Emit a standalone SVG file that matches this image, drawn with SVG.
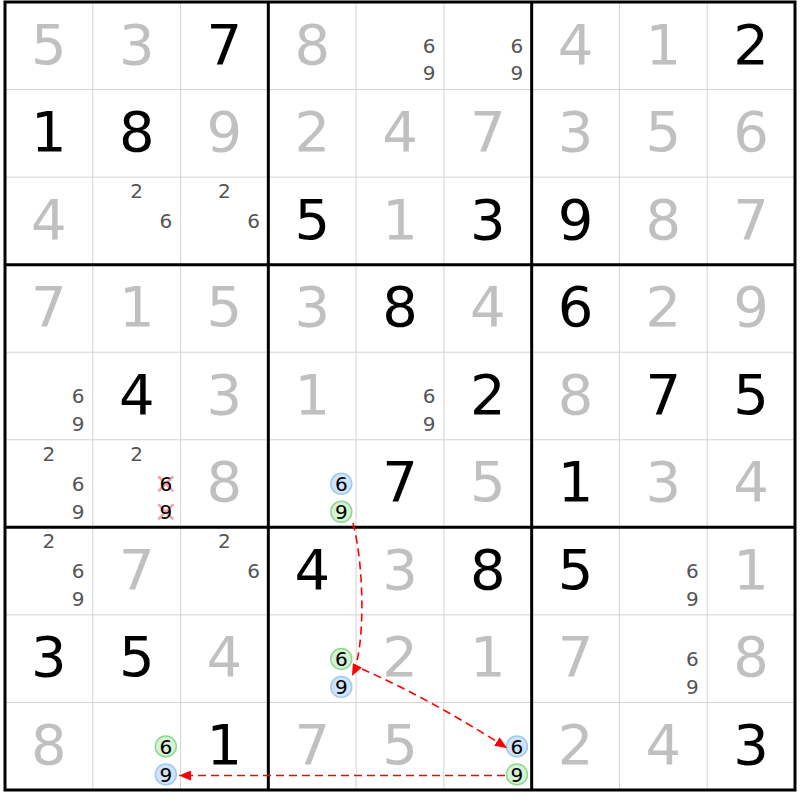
<svg xmlns="http://www.w3.org/2000/svg" width="800" height="800" viewBox="0 0 800 800">
<style>
text{font-family:"DejaVu Sans","Verdana",sans-serif;text-anchor:middle}
.g{font-size:56px;fill:#000}
.s{font-size:56px;fill:#c0c0c0}
.p{font-size:20px;fill:#555}
.c{font-size:20px;fill:#000}
.thin{stroke:#d3d3d3;stroke-width:1}
.thick{stroke:#000;stroke-width:3}
.cb{fill:#cfe4fa;stroke:#9fc9f3;stroke-width:1.5}
.cg{fill:#d4f2d4;stroke:#8ed88e;stroke-width:1.5}
.x{stroke:#f7a3a8;stroke-width:2.5;stroke-linecap:round}
.link{fill:none;stroke:#ff0000;stroke-width:1.6;stroke-dasharray:8 5}
</style>
<defs>
<marker id="ah" viewBox="0 0 12 10" refX="12" refY="5" markerWidth="12" markerHeight="10" markerUnits="userSpaceOnUse" orient="auto">
<path d="M0,0 L12,5 L0,10 Z" fill="#ff0000"/>
</marker>
</defs>
<rect x="0" y="0" width="800" height="800" fill="#fff"/>
<g id="grid">
<g class="thin">
<line x1="92.78" y1="2" x2="92.78" y2="790"/>
<line x1="180.56" y1="2" x2="180.56" y2="790"/>
<line x1="356.11" y1="2" x2="356.11" y2="790"/>
<line x1="443.89" y1="2" x2="443.89" y2="790"/>
<line x1="619.44" y1="2" x2="619.44" y2="790"/>
<line x1="707.22" y1="2" x2="707.22" y2="790"/>
<line x1="5" y1="89.56" x2="795" y2="89.56"/>
<line x1="5" y1="177.11" x2="795" y2="177.11"/>
<line x1="5" y1="352.22" x2="795" y2="352.22"/>
<line x1="5" y1="439.78" x2="795" y2="439.78"/>
<line x1="5" y1="614.89" x2="795" y2="614.89"/>
<line x1="5" y1="702.44" x2="795" y2="702.44"/>
</g>
<g class="thick">
<line x1="268.33" y1="2" x2="268.33" y2="790"/>
<line x1="531.67" y1="2" x2="531.67" y2="790"/>
<line x1="5" y1="264.67" x2="795" y2="264.67"/>
<line x1="5" y1="527.33" x2="795" y2="527.33"/>
<rect x="5" y="2" width="790" height="788" fill="none"/>
</g>
</g>
<g id="row0">
<text class="s" x="48.9" y="63.5">5</text>
<text class="s" x="136.7" y="63.5">3</text>
<text class="g" x="224.4" y="63.5">7</text>
<text class="s" x="312.2" y="63.5">8</text>
<g id="r0c4"><text class="p" x="429.1" y="53">6</text><text class="p" x="429.1" y="80">9</text></g>
<g id="r0c5"><text class="p" x="516.9" y="53">6</text><text class="p" x="516.9" y="80">9</text></g>
<text class="s" x="575.6" y="63.5">4</text>
<text class="s" x="663.3" y="63.5">1</text>
<text class="g" x="751.1" y="63.5">2</text>
</g>
<g id="row1">
<text class="g" x="48.9" y="151.1">1</text>
<text class="g" x="136.7" y="151.1">8</text>
<text class="s" x="224.4" y="151.1">9</text>
<text class="s" x="312.2" y="151.1">2</text>
<text class="s" x="400" y="151.1">4</text>
<text class="s" x="487.8" y="151.1">7</text>
<text class="s" x="575.6" y="151.1">3</text>
<text class="s" x="663.3" y="151.1">5</text>
<text class="s" x="751.1" y="151.1">6</text>
</g>
<g id="row2">
<text class="s" x="48.9" y="238.6">4</text>
<g id="r2c1"><text class="p" x="136.7" y="198.1">2</text><text class="p" x="165.8" y="228.1">6</text></g>
<g id="r2c2"><text class="p" x="224.4" y="198.1">2</text><text class="p" x="253.6" y="228.1">6</text></g>
<text class="g" x="312.2" y="238.6">5</text>
<text class="s" x="400" y="238.6">1</text>
<text class="g" x="487.8" y="238.6">3</text>
<text class="g" x="575.6" y="238.6">9</text>
<text class="s" x="663.3" y="238.6">8</text>
<text class="s" x="751.1" y="238.6">7</text>
</g>
<g id="row3">
<text class="s" x="48.9" y="326.2">7</text>
<text class="s" x="136.7" y="326.2">1</text>
<text class="s" x="224.4" y="326.2">5</text>
<text class="s" x="312.2" y="326.2">3</text>
<text class="g" x="400" y="326.2">8</text>
<text class="s" x="487.8" y="326.2">4</text>
<text class="g" x="575.6" y="326.2">6</text>
<text class="s" x="663.3" y="326.2">2</text>
<text class="s" x="751.1" y="326.2">9</text>
</g>
<g id="row4">
<g id="r4c0"><text class="p" x="78" y="403.2">6</text><text class="p" x="78" y="431.2">9</text></g>
<text class="g" x="136.7" y="413.7">4</text>
<text class="s" x="224.4" y="413.7">3</text>
<text class="s" x="312.2" y="413.7">1</text>
<g id="r4c4"><text class="p" x="429.1" y="403.2">6</text><text class="p" x="429.1" y="431.2">9</text></g>
<text class="g" x="487.8" y="413.7">2</text>
<text class="s" x="575.6" y="413.7">8</text>
<text class="g" x="663.3" y="413.7">7</text>
<text class="g" x="751.1" y="413.7">5</text>
</g>
<g id="row5">
<g id="r5c0"><text class="p" x="48.9" y="460.8">2</text><text class="p" x="78" y="490.8">6</text><text class="p" x="78" y="518.8">9</text></g>
<g id="r5c1">
<text class="p" x="136.7" y="460.8">2</text>
<path class="x" d="M159 477 L172.6 490.6 M172.6 477 L159 490.6 M159 505 L172.6 518.6 M172.6 505 L159 518.6"/>
<text class="c" x="165.8" y="490.8">6</text>
<text class="c" x="165.8" y="518.8">9</text>
</g>
<text class="s" x="224.4" y="501.3">8</text>
<g id="r5c3">
<circle class="cb" cx="341.3" cy="483.8" r="10.5"/><text class="c" x="341.3" y="491">6</text>
<circle class="cg" cx="341.3" cy="511.8" r="10.5"/><text class="c" x="341.3" y="519">9</text>
</g>
<text class="g" x="400" y="501.3">7</text>
<text class="s" x="487.8" y="501.3">5</text>
<text class="g" x="575.6" y="501.3">1</text>
<text class="s" x="663.3" y="501.3">3</text>
<text class="s" x="751.1" y="501.3">4</text>
</g>
<g id="row6">
<g id="r6c0"><text class="p" x="48.9" y="548.3">2</text><text class="p" x="78" y="578.3">6</text><text class="p" x="78" y="606.3">9</text></g>
<text class="s" x="136.7" y="588.8">7</text>
<g id="r6c2"><text class="p" x="224.4" y="548.3">2</text><text class="p" x="253.6" y="578.3">6</text></g>
<text class="g" x="312.2" y="588.8">4</text>
<text class="s" x="400" y="588.8">3</text>
<text class="g" x="487.8" y="588.8">8</text>
<text class="g" x="575.6" y="588.8">5</text>
<g id="r6c7"><text class="p" x="692.4" y="578.3">6</text><text class="p" x="692.4" y="606.3">9</text></g>
<text class="s" x="751.1" y="588.8">1</text>
</g>
<g id="row7">
<text class="g" x="48.9" y="676.4">3</text>
<text class="g" x="136.7" y="676.4">5</text>
<text class="s" x="224.4" y="676.4">4</text>
<g id="r7c3">
<circle class="cg" cx="341.3" cy="658.9" r="10.5"/><text class="c" x="341.3" y="666.1">6</text>
<circle class="cb" cx="341.3" cy="686.9" r="10.5"/><text class="c" x="341.3" y="694.1">9</text>
</g>
<text class="s" x="400" y="676.4">2</text>
<text class="s" x="487.8" y="676.4">1</text>
<text class="s" x="575.6" y="676.4">7</text>
<g id="r7c7"><text class="p" x="692.4" y="665.9">6</text><text class="p" x="692.4" y="693.9">9</text></g>
<text class="s" x="751.1" y="676.4">8</text>
</g>
<g id="row8">
<text class="s" x="48.9" y="763.9">8</text>
<g id="r8c1">
<circle class="cg" cx="165.8" cy="746.4" r="10.5"/><text class="c" x="165.8" y="753.6">6</text>
<circle class="cb" cx="165.8" cy="774.4" r="10.5"/><text class="c" x="165.8" y="781.6">9</text>
</g>
<text class="g" x="224.4" y="763.9">1</text>
<text class="s" x="312.2" y="763.9">7</text>
<text class="s" x="400" y="763.9">5</text>
<g id="r8c5">
<circle class="cb" cx="516.9" cy="746.4" r="10.5"/><text class="c" x="516.9" y="753.6">6</text>
<circle class="cg" cx="516.9" cy="774.4" r="10.5"/><text class="c" x="516.9" y="781.6">9</text>
</g>
<text class="s" x="575.6" y="763.9">2</text>
<text class="s" x="663.3" y="763.9">4</text>
<text class="g" x="751.1" y="763.9">3</text>
</g>
<g id="connectors">
<path class="link" d="M353 523 C365 570 365 650 352 676" marker-end="url(#ah)"/>
<path class="link" d="M362 669 C410 690 460 718 507 748" marker-end="url(#ah)"/>
<path class="link" d="M505 775.5 L179 775.5" marker-end="url(#ah)"/>
</g>
</svg>
